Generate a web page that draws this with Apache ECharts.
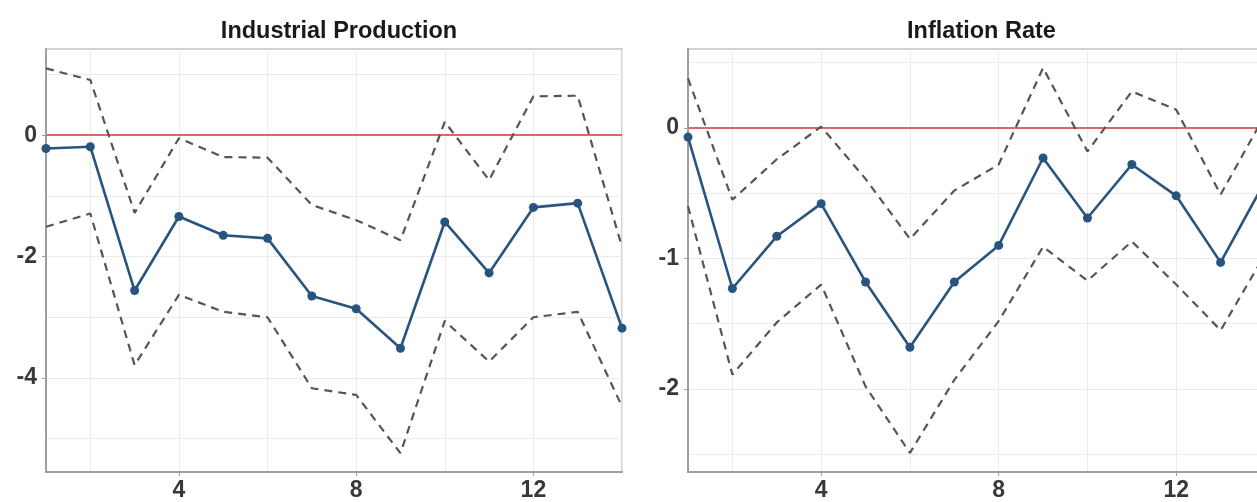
<!DOCTYPE html>
<html>
<head>
<meta charset="utf-8">
<script src="https://cdn.jsdelivr.net/npm/echarts@6/dist/echarts.min.js"></script>
<style>
  html, body { margin: 0; padding: 0; background: #fff; }
  #chart { width: 1257px; height: 502px; }
</style>
</head>
<body>
<div id="chart"></div>
<script>
// horizons (x)
const horizons = [1, 2, 3, 4, 5, 6, 7, 8, 9, 10, 11, 12, 13, 14];

// Industrial Production
const ipMid   = [-0.22, -0.19, -2.56, -1.34, -1.65, -1.70, -2.65, -2.86, -3.51, -1.43, -2.27, -1.19, -1.12, -3.18];
const ipUpper = [1.10, 0.91, -1.28, -0.05, -0.36, -0.37, -1.15, -1.40, -1.73, 0.22, -0.74, 0.64, 0.65, -1.84];
const ipLower = [-1.51, -1.29, -3.79, -2.63, -2.91, -3.00, -4.17, -4.28, -5.24, -3.06, -3.73, -3.00, -2.91, -4.47];

// Inflation Rate
const infMid   = [-0.07, -1.23, -0.83, -0.58, -1.18, -1.68, -1.18, -0.90, -0.23, -0.69, -0.28, -0.52, -1.03, -0.41];
const infUpper = [0.38, -0.55, -0.24, 0.01, -0.39, -0.85, -0.48, -0.28, 0.46, -0.18, 0.28, 0.14, -0.51, 0.10];
const infLower = [-0.60, -1.89, -1.49, -1.20, -1.98, -2.49, -1.93, -1.48, -0.91, -1.17, -0.87, -1.20, -1.55, -0.97];

// axis ticks
const xMajor = [4, 8, 12];
const xGrid = [2, 4, 6, 8, 10, 12, 14];
const ipMajor = [-4, -2, 0];
const ipGrid = [-5, -4, -3, -2, -1, 0, 1];
const infMajor = [-2, -1, 0];
const infGrid = [-2.5, -2, -1.5, -1, -0.5, 0, 0.5];

const panels = [
  { title: 'Industrial Production', mid: ipMid, upper: ipUpper, lower: ipLower,
    yMin: -5.55, yMax: 1.42, yMajor: ipMajor, yGrid: ipGrid,
    grid: { left: 46, right: 635, top: 49, bottom: 30 }, center: 334 },
  { title: 'Inflation Rate', mid: infMid, upper: infUpper, lower: infLower,
    yMin: -2.636, yMax: 0.605, yMajor: infMajor, yGrid: infGrid,
    grid: { left: 688, right: -8, top: 49, bottom: 30 }, center: 976.5 }
];

const labelStyle = { color: '#383838', fontSize: 23, fontWeight: 'bold', fontFamily: 'Liberation Sans, Arial, sans-serif' };
const gridLine = { show: true, lineStyle: { color: '#ebebeb', width: 1 } };
const axisLine = { show: true, onZero: false, lineStyle: { color: '#9e9e9e', width: 2 } };
const tick = { show: true, length: 4, lineStyle: { color: '#9e9e9e', width: 1 } };

const pairs = (vals) => vals.map((v, i) => [horizons[i], v]);

const title = [], grid = [], xAxis = [], yAxis = [], series = [];

panels.forEach((p, i) => {
  title.push({
    text: p.title, left: p.center, top: 15, textAlign: 'center',
    textStyle: { fontSize: 23.5, fontWeight: 'bold', color: '#1a1a1a', fontFamily: 'Liberation Sans, Arial, sans-serif' }
  });
  grid.push(Object.assign({
    show: true, borderColor: '#c4c4c4', borderWidth: 1.5, backgroundColor: '#fff',
    containLabel: false, outerBoundsMode: 'none'
  }, p.grid));

  // gridline axes (hidden) + visible axes
  xAxis.push({
    type: 'value', gridIndex: i, position: 'bottom', min: 1, max: 14,
    axisLine: { show: false }, axisLabel: { show: false },
    axisTick: { show: false, customValues: xGrid }, splitLine: gridLine
  });
  xAxis.push({
    type: 'value', gridIndex: i, position: 'bottom', min: 1, max: 14,
    axisLine: axisLine, axisTick: Object.assign({ customValues: xMajor }, tick),
    axisLabel: Object.assign({ customValues: xMajor, margin: 7 }, labelStyle),
    splitLine: { show: false }
  });
  yAxis.push({
    type: 'value', gridIndex: i, position: 'left', min: p.yMin, max: p.yMax,
    axisLine: { show: false }, axisLabel: { show: false },
    axisTick: { show: false, customValues: p.yGrid }, splitLine: gridLine
  });
  yAxis.push({
    type: 'value', gridIndex: i, position: 'left', min: p.yMin, max: p.yMax,
    axisLine: axisLine, axisTick: Object.assign({ customValues: p.yMajor }, tick),
    axisLabel: Object.assign({ customValues: p.yMajor, margin: 9 }, labelStyle),
    splitLine: { show: false }
  });

  const xi = i * 2 + 1, yi = i * 2 + 1;
  const dashed = { color: '#555', width: 2.2, type: [8, 6] };
  series.push({
    type: 'line', xAxisIndex: xi, yAxisIndex: yi, data: pairs(p.upper),
    showSymbol: false, lineStyle: dashed, silent: true, z: 3
  });
  series.push({
    type: 'line', xAxisIndex: xi, yAxisIndex: yi, data: pairs(p.lower),
    showSymbol: false, lineStyle: dashed, silent: true, z: 3
  });
  series.push({
    type: 'line', xAxisIndex: xi, yAxisIndex: yi, data: pairs(p.mid),
    symbol: 'circle', symbolSize: 9,
    lineStyle: { color: '#28557f', width: 2.6 }, itemStyle: { color: '#28557f' },
    z: 5,
    markLine: {
      silent: true, symbol: 'none', label: { show: false },
      lineStyle: { color: '#d46a6a', width: 2, type: 'solid' },
      data: [{ yAxis: 0 }], z: 2
    }
  });
});

const chart = echarts.init(document.getElementById('chart'));
chart.setOption({ animation: false, title, grid, xAxis, yAxis, series });
</script>
</body>
</html>
